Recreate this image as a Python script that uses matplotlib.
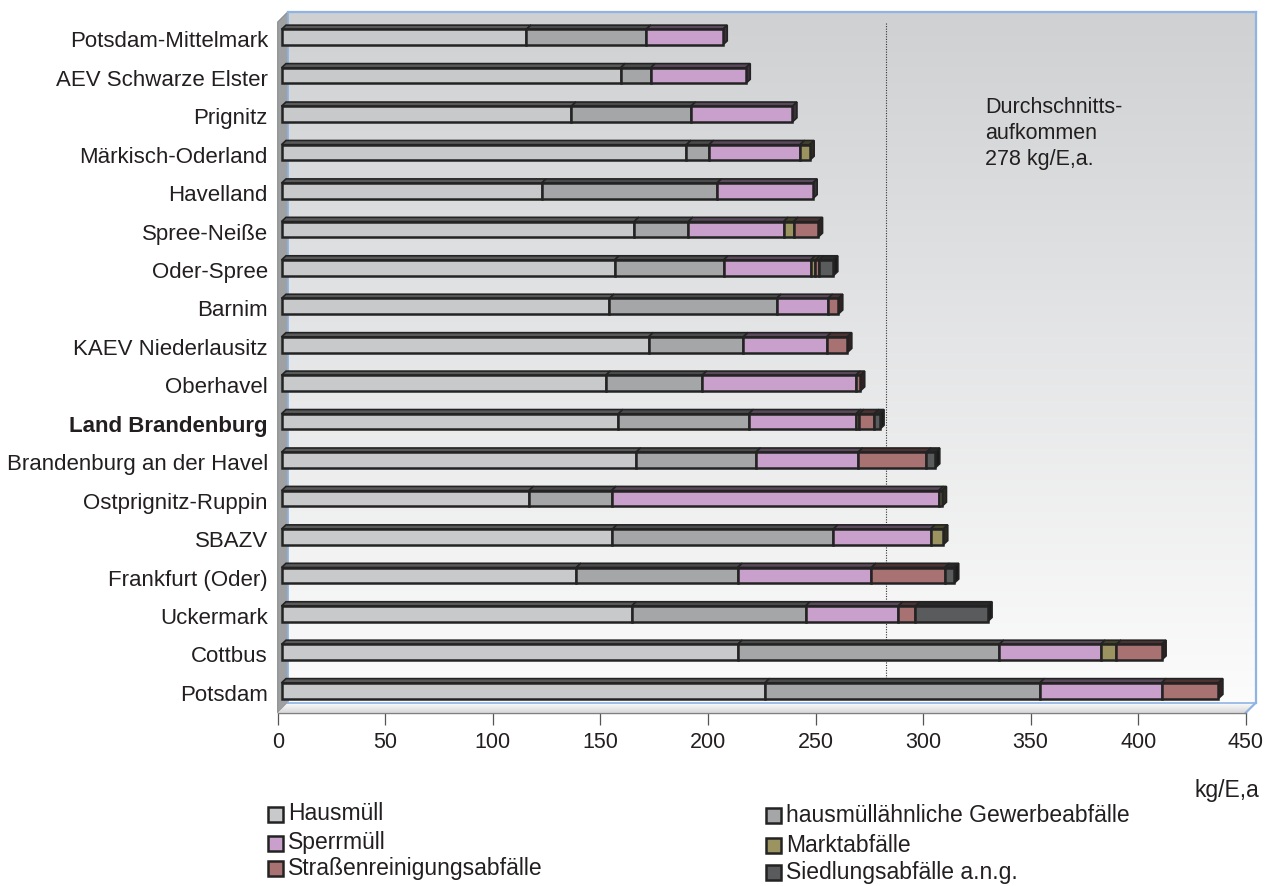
import numpy as np
import matplotlib
matplotlib.use("Agg")
import matplotlib.pyplot as plt
from matplotlib.patches import Polygon, Rectangle
from matplotlib.colors import to_rgb

plt.rcParams["font.family"] = ["Liberation Sans", "DejaVu Sans"]

# ---------------------------------------------------------------- data (kg/E,a)
regions = ["Potsdam-Mittelmark", "AEV Schwarze Elster", "Prignitz",
           "Märkisch-Oderland", "Havelland", "Spree-Neiße", "Oder-Spree",
           "Barnim", "KAEV Niederlausitz", "Oberhavel", "Land Brandenburg",
           "Brandenburg an der Havel", "Ostprignitz-Ruppin", "SBAZV",
           "Frankfurt (Oder)", "Uckermark", "Cottbus", "Potsdam"]

hausmuell = [113.8, 157.6, 134.7, 188.2, 120.9, 163.9, 154.8, 152.4, 170.6,
             150.7, 156.6, 164.8, 115.0, 153.8, 137.0, 162.8, 212.0, 224.7]
gewerbe = [55.7, 14.0, 55.6, 10.5, 81.5, 25.2, 50.7, 77.7, 44.1,
           44.8, 60.6, 55.7, 38.4, 102.7, 75.0, 80.8, 121.6, 127.8]
sperrmuell = [35.6, 44.2, 47.2, 42.3, 44.5, 44.3, 40.5, 23.9, 38.7,
              71.4, 49.9, 47.5, 152.1, 45.2, 62.2, 43.1, 47.1, 56.6]
markt = [0, 0, 0, 4.5, 0, 4.6, 2.2, 0, 0,
         0, 1.5, 0, 1.5, 5.9, 0, 0, 7.4, 0]
strassen = [0, 0, 0, 0, 0, 11.4, 1.7, 4.8, 9.6,
            2.1, 6.8, 31.8, 0, 0, 34.1, 8.0, 21.0, 26.4]
siedlung = [0, 0, 0, 0, 0, 0, 6.6, 0, 0,
            0, 2.6, 4.1, 0, 0, 4.4, 33.5, 0, 0]

series_names = ["Hausmüll", "hausmüllähnliche Gewerbeabfälle", "Sperrmüll",
                "Marktabfälle", "Straßenreinigungsabfälle",
                "Siedlungsabfälle a.n.g."]
average = 278
x_ticks = [0, 50, 100, 150, 200, 250, 300, 350, 400, 450]
unit_label = "kg/E,a"

# ---------------------------------------------------------------- styling
colors = ["#c8c9cb", "#a5a6a8", "#c9a0cb", "#9b9460", "#a87272", "#595b5d"]
EDGE = "#232323"
TXT = "#231f20"
BLUE = "#8fb4e3"


def shade(c, f):
    r, g, b = to_rgb(c)
    return (r * f, g * f, b * f)


W, H = 1276, 886
fig = plt.figure(figsize=(W / 100, H / 100), dpi=100)

# axes frame in pixels
ax_l, ax_r, ax_t, ax_b = 277.7, 1258.0, 12.0, 712.7
ax = fig.add_axes([ax_l / W, 1 - ax_b / H, (ax_r - ax_l) / W, (ax_b - ax_t) / H])
ax.patch.set_visible(False)

px_x = (1245.8 - 277.7) / 450.0      # pixels per kg/E,a
row_pitch = 38.44                     # pixels per category
first_row = 39.4                      # pixel row of the first category
xmax = (ax_r - ax_l) / px_x
y_top = (ax_t - first_row) / row_pitch
y_bot = (ax_b - first_row) / row_pitch


def dx(p):
    return p / px_x


def dy(p):
    return p / row_pitch


xend = x_ticks[-1]
wdx, wdy = dx(10), dy(10)

# ---------------------------------------------------------------- back wall
n = 256
t = np.linspace(0, 1, n)[:, None]
top_c = np.array([0.812, 0.818, 0.826])
bot_c = np.array([0.988, 0.988, 0.988])
grad = (top_c * (1 - t) + bot_c * t)[:, None, :]
ax.imshow(grad, extent=(wdx, xend + wdx, y_bot - wdy, y_top), origin="upper",
          aspect="auto", interpolation="bilinear", zorder=0)

# left wall
ax.add_patch(Polygon([(0, y_bot), (0, y_top + dy(10)), (wdx, y_top),
                      (wdx, y_bot - wdy)], closed=True, fc="#9fa0a2",
                     ec="#8a8b8d", lw=0.8, zorder=1, clip_on=False))

# floor
floor = Polygon([(0, y_bot), (xend, y_bot), (xend + wdx, y_bot - wdy),
                 (wdx, y_bot - wdy)], closed=True, fc="none", ec="none")
ax.add_patch(floor)
fgrad = (np.array([0.99, 0.99, 0.99]) * (1 - t) + np.array([0.84, 0.84, 0.85]) * t)[:, None, :]
fim = ax.imshow(fgrad, extent=(0, xend + wdx, y_bot, y_bot - wdy), origin="upper",
                aspect="auto", interpolation="bilinear", zorder=1)
fim.set_clip_path(floor)

# wall borders
ax.plot([wdx, xend + wdx], [y_top, y_top], color=BLUE, lw=1.6, zorder=2, clip_on=False)
ax.plot([xend + wdx, xend + wdx], [y_top, y_bot - wdy], color=BLUE, lw=1.6, zorder=2, clip_on=False)
ax.plot([wdx, wdx], [y_top, y_bot - wdy], color=BLUE, lw=1.2, zorder=2, clip_on=False)
ax.plot([wdx, xend + wdx], [y_bot - wdy, y_bot - wdy], color=BLUE, lw=1.2, zorder=2)
ax.plot([xend + wdx, xend], [y_bot - wdy, y_bot], color=BLUE, lw=1.6, zorder=2, clip_on=False)

# average line on the back wall
ax.vlines(average + wdx, y_top + dy(11), y_bot - wdy - dy(3), colors="#333333",
          linestyles=(0, (1, 1.3)), lw=0.8, zorder=2)
ax.text((985 - ax_l) / (ax_r - ax_l), 1 - (97 - ax_t) / (ax_b - ax_t),
        f"Durchschnitts-\naufkommen\n{average} kg/E,a.",
        transform=ax.transAxes, ha="left", va="top", fontsize=15.5,
        color=TXT, linespacing=1.32, zorder=2)

# ---------------------------------------------------------------- 3D bars
series = [hausmuell, gewerbe, sperrmuell, markt, strassen, siedlung]
nrows = len(regions)
bar_h = dy(15.7)
ox, oy = dx(3.8), dy(2.2)
ddx, ddy = dx(4.5), dy(4.2)

ypos = np.arange(nrows)
cum = np.zeros(nrows)
last_col = [None] * nrows
for vals, col in zip(series, colors):
    v = np.array(vals, dtype=float)
    idx = np.nonzero(v > 0)[0]
    ax.barh(ypos[idx] - oy, v[idx], left=cum[idx] + ox, height=bar_h,
            color=col, edgecolor=EDGE, lw=1.8, zorder=5)
    for i in idx:
        yt = i - oy - bar_h / 2
        l = cum[i] + ox
        r = l + v[i]
        ax.add_patch(Polygon([(l, yt), (r, yt), (r + ddx, yt - ddy), (l + ddx, yt - ddy)],
                             closed=True, fc=shade(col, 0.45), ec=EDGE, lw=1.2,
                             zorder=4))
        last_col[i] = col
    cum += v

for i in range(nrows):
    yt = i - oy - bar_h / 2
    R = cum[i] + ox
    ax.add_patch(Polygon([(R, yt), (R, yt + bar_h), (R + ddx, yt + bar_h - ddy),
                          (R + ddx, yt - ddy)], closed=True,
                         fc=shade(last_col[i], 0.3), ec=EDGE, lw=1.2, zorder=4))

# ---------------------------------------------------------------- axes
ax.set_xlim(0, xmax)
ax.set_ylim(y_bot, y_top)
for s in ["top", "right", "left"]:
    ax.spines[s].set_visible(False)
ax.spines["bottom"].set_bounds(0, xend)
ax.spines["bottom"].set_color("#7f7f7f")
ax.spines["bottom"].set_linewidth(1.0)
ax.spines["bottom"].set_zorder(3)

ax.set_xticks(x_ticks)
ax.set_xticklabels([str(v) for v in x_ticks])
ax.tick_params(axis="x", direction="out", length=8.6, width=0.9, color="#555555",
               pad=5.5, labelsize=15.5, labelcolor=TXT)
ax.set_yticks(ypos)
ax.set_yticklabels(regions)
ax.tick_params(axis="y", length=0, pad=7, labelsize=16, labelcolor=TXT)
for lab in ax.get_yticklabels():
    if lab.get_text() == "Land Brandenburg":
        lab.set_fontweight("bold")

fig.text(1259 / W, 1 - 790 / H, unit_label, ha="right", va="center",
         fontsize=16.5, color=TXT)

# ---------------------------------------------------------------- legend
sq = 15
legend_cols = [(268, [814, 843, 868], [0, 2, 4]),
               (766, [815, 845, 872], [1, 3, 5])]
for x0, ys, ks in legend_cols:
    for yc, k in zip(ys, ks):
        fig.add_artist(Rectangle((x0 / W, 1 - (yc + sq / 2) / H), sq / W, sq / H,
                                 transform=fig.transFigure, fc=colors[k],
                                 ec=EDGE, lw=1.8))
        fig.text((x0 + sq + 5) / W, 1 - yc / H, series_names[k], ha="left",
                 va="center", fontsize=16.5, color=TXT)

fig.savefig("out.png", dpi=100, facecolor="white")
